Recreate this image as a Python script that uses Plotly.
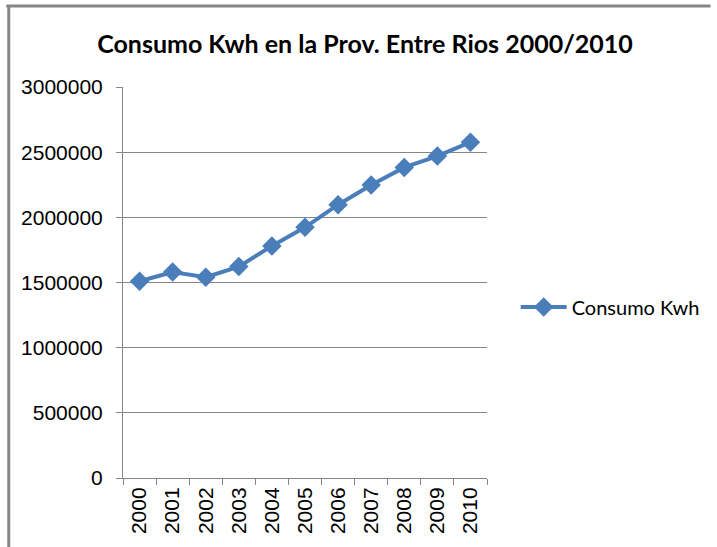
import plotly.graph_objects as go

years = ["2000", "2001", "2002", "2003", "2004", "2005", "2006", "2007", "2008", "2009", "2010"]
consumo_kwh = [1510000, 1580000, 1541000, 1622000, 1781000, 1923000, 2097000, 2248000, 2383000, 2470000, 2577000]
y_ticks = [0, 500000, 1000000, 1500000, 2000000, 2500000, 3000000]
series_name = "Consumo Kwh"
title_text = "Consumo Kwh en la Prov. Entre Rios 2000/2010"

W, H = 717, 547
L, R, T, B = 123, 226, 87, 69
pw, ph = W - L - R, H - T - B

def px_x(x):
    return (x - L) / pw

def px_y(y):
    return (H - B - y) / ph

blue = "#4A7EBB"
grey = "#868686"

fig = go.Figure()
fig.add_trace(go.Scatter(
    x=years, y=consumo_kwh, mode="lines+markers", name=series_name,
    line=dict(color=blue, width=4),
    marker=dict(symbol="diamond", size=15, color=blue),
))

fig.update_layout(
    width=W, height=H,
    margin=dict(l=L, r=R, t=T, b=B),
    paper_bgcolor="white", plot_bgcolor="white",
    title=dict(text=title_text, x=365 / W, xanchor="center", y=1 - 44 / H, yanchor="middle",
               font=dict(family="Lato", size=25, color="black", weight="bold")),
    showlegend=True,
    legend=dict(x=px_x(520), y=px_y(307), xanchor="left", yanchor="middle",
                font=dict(family="Lato", size=20, color="black"),
                itemwidth=46, bgcolor="rgba(0,0,0,0)"),
    xaxis=dict(type="category", showgrid=False, showline=True, linecolor=grey, linewidth=1,
               ticks="outside", ticklen=6, tickcolor=grey, tickson="boundaries",
               tickangle=-90, tickfont=dict(family="Liberation Sans", size=21, color="black"),
               range=[-0.5, 10.5]),
    yaxis=dict(range=[0, 3000000], tickvals=y_ticks, ticktext=[str(v) for v in y_ticks],
               showgrid=True, gridcolor=grey, gridwidth=1, zeroline=False,
               showline=True, linecolor=grey, linewidth=1,
               ticks="outside", ticklen=6, tickcolor=grey, ticklabelstandoff=9,
               tickfont=dict(family="Liberation Sans", size=21, color="black")),
    shapes=[
        dict(type="line", xref="paper", yref="paper", x0=px_x(5), x1=px_x(717), y0=px_y(6), y1=px_y(6),
             line=dict(color=grey, width=3), layer="above"),
        dict(type="line", xref="paper", yref="paper", x0=px_x(7.5), x1=px_x(7.5), y0=px_y(5), y1=px_y(547),
             line=dict(color=grey, width=3), layer="above"),
    ],
)

fig.write_html("out.html", config={"displayModeBar": False},
               post_script="document.body.style.margin='0';document.body.style.overflow='hidden';")
